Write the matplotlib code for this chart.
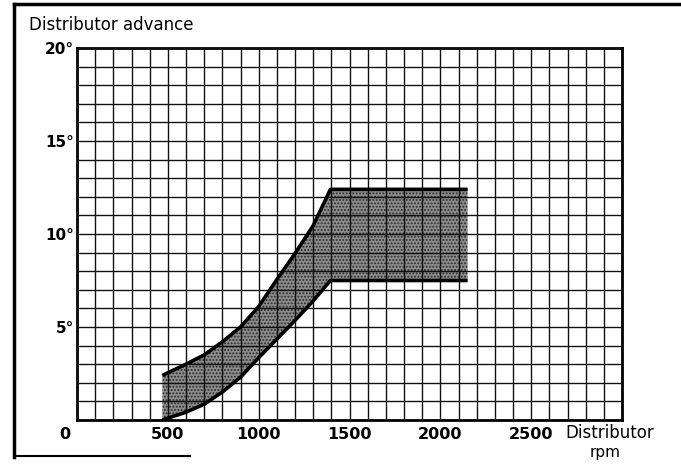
import numpy as np
import matplotlib
matplotlib.use('Agg')
import matplotlib.pyplot as plt
from matplotlib.lines import Line2D
from matplotlib.transforms import ScaledTranslation

# 分电器转速 (rpm) 与提前角上下限 (度)
rpm = [470, 600, 700, 800, 900, 1000, 1100, 1200, 1300, 1395, 2150]
advance_max = [2.4, 3.0, 3.5, 4.2, 5.0, 6.1, 7.55, 8.95, 10.45, 12.4, 12.4]
advance_min = [0.0, 0.42, 0.85, 1.5, 2.3, 3.35, 4.35, 5.35, 6.4, 7.5, 7.5]

x_ticks = [0, 500, 1000, 1500, 2000, 2500]
x_tick_labels = ['0', '500', '1000', '1500', '2000', '2500']
y_ticks = [0, 5, 10, 15, 20]
y_tick_labels = ['', '5°', '10°', '15°', '20°']

plt.rcParams['font.family'] = ['DejaVu Sans']
plt.rcParams['hatch.linewidth'] = 0.9
plt.rcParams['hatch.color'] = '#2a2a2a'

fig = plt.figure(figsize=(6.81, 4.66), dpi=100)
ax = fig.add_axes([77 / 681, 1 - 420 / 466, 545 / 681, 372 / 466])

ax.set_xlim(0, 3000)
ax.set_ylim(0, 20)

# 坐标纸网格：每格 100 rpm / 1 度
ax.set_xticks(np.arange(0, 3001, 100), minor=True)
ax.set_yticks(np.arange(0, 21, 1), minor=True)
ax.grid(which='both', color='#111111', linewidth=1.0)
ax.set_axisbelow(False)
ax.tick_params(which='both', length=0)

ax.set_xticks(x_ticks)
ax.set_xticklabels(x_tick_labels, fontsize=11.5, fontweight='bold')
ax.set_yticks(y_ticks)
ax.set_yticklabels(y_tick_labels, fontsize=11, fontweight='bold')
ax.tick_params(axis='x', pad=5)
ax.tick_params(axis='y', pad=2)

# "0" 往左挪一点
lbl0 = ax.get_xticklabels()[0]
lbl0.set_transform(lbl0.get_transform() + ScaledTranslation(-12 / 100, 0, fig.dpi_scale_trans))

for s in ax.spines.values():
    s.set_linewidth(2.0)
    s.set_color('black')

# 提前角范围带
ax.fill_between(rpm, advance_min, advance_max, facecolor='#8c8c8c',
                edgecolor='#2a2a2a', hatch='.....', linewidth=0, zorder=1)
ax.plot(rpm, advance_max, color='black', linewidth=2.6, zorder=3,
        solid_capstyle='butt')
ax.plot(rpm, advance_min, color='black', linewidth=2.6, zorder=3,
        solid_capstyle='butt')

# 标题与轴名
fig.text(29 / 681, 1 - 25 / 466, 'Distributor advance', fontsize=12,
         ha='left', va='center')
fig.text(565 / 681, 1 - 433 / 466, 'Distributor', fontsize=12,
         ha='left', va='center')
fig.text(605 / 681, 1 - 452 / 466, 'rpm', fontsize=11,
         ha='center', va='center')

# 外框（左、上、下边一段）
fig.add_artist(Line2D([14 / 681, 14 / 681], [1 - 4 / 466, 1 - 457 / 466],
                      color='black', linewidth=2.5))
fig.add_artist(Line2D([14 / 681, 1.0], [1 - 4 / 466, 1 - 4 / 466],
                      color='black', linewidth=2.5))
fig.add_artist(Line2D([14 / 681, 190 / 681], [1 - 456 / 466, 1 - 456 / 466],
                      color='black', linewidth=1.5))

fig.savefig('out.png', dpi=100)
